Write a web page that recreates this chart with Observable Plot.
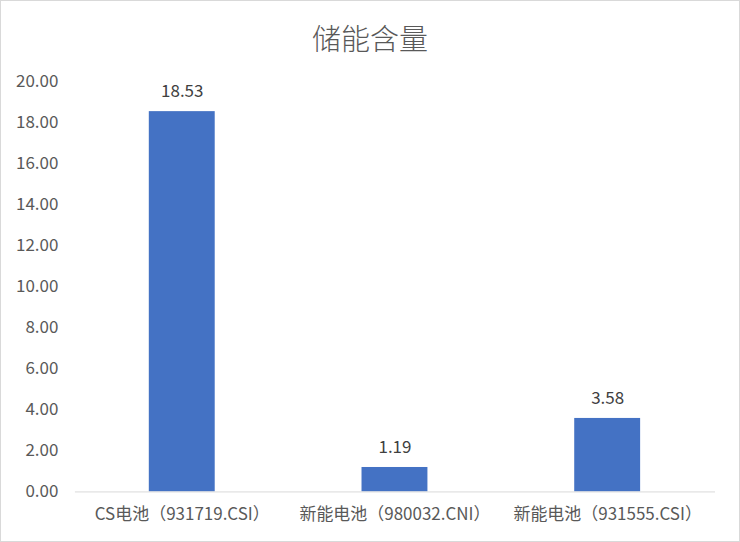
<!DOCTYPE html>
<html><head><meta charset="utf-8">
<script src="https://cdn.jsdelivr.net/npm/d3@7"></script>
<script src="https://cdn.jsdelivr.net/npm/@observablehq/plot@0.6"></script>
<style>
body{margin:0;background:#fff;}
#wrap{position:relative;width:738px;height:540px;border:1px solid #d9d9d9;background:#fff;overflow:hidden;font-family:"Noto Sans CJK SC","Noto Sans",sans-serif;}
#title{position:absolute;top:16px;left:0;width:738px;text-align:center;font-size:29px;font-weight:300;color:#595959;line-height:40px;}
#chart{position:absolute;top:59px;left:-1px;}
</style></head>
<body>
<div id="wrap"><div id="title">储能含量</div><div id="chart"></div></div>
<script>
const categories = ["CS电池（931719.CSI）", "新能电池（980032.CNI）", "新能电池（931555.CSI）"];
const values = [18.53, 1.19, 3.58];
const yTicks = [0, 2, 4, 6, 8, 10, 12, 14, 16, 18, 20];

const data = categories.map((c, i) => ({cat: c, v: values[i]}));

const chart = Plot.plot({
  width: 740,
  height: 481,
  marginLeft: 75,
  marginRight: 24,
  marginTop: 21,
  marginBottom: 49,
  style: {fontFamily: '"Noto Sans CJK SC","Noto Sans",sans-serif', color: "#595959", background: "transparent"},
  x: {domain: categories, paddingInner: 0.69, paddingOuter: 0.345, label: null},
  y: {domain: [0, 20], label: null},
  marks: [
    Plot.barY(data, {x: "cat", y: "v", fill: "#4472C4"}),
    Plot.ruleY([0], {stroke: "#d9d9d9", strokeWidth: 1}),
    Plot.text(data, {x: "cat", y: "v", text: d => d.v.toFixed(2), lineAnchor: "middle", dy: -20, fontSize: 17, fill: "#404040"}),
    Plot.axisY({ticks: yTicks, tickFormat: d => d.toFixed(2), tickSize: 0, tickPadding: 17, fontSize: 17, fill: "#595959", label: null}),
    Plot.axisX({tickSize: 0, tickPadding: 16, fontSize: 17, fill: "#595959", label: null})
  ]
});
document.getElementById("chart").appendChild(chart);
</script>
</body></html>
